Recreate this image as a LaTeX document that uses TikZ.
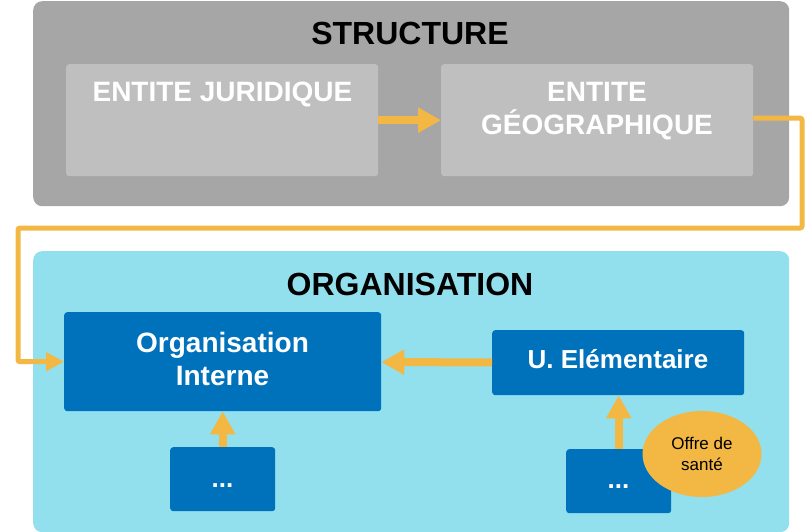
\documentclass[tikz,border=0pt]{standalone}
\usepackage{fontspec}
\setmainfont{Liberation Sans}
\usetikzlibrary{arrows.meta,shapes.geometric}
\definecolor{panelgrey}{HTML}{A6A6A6}
\definecolor{boxgrey}{HTML}{BFBFBF}
\definecolor{panelblue}{HTML}{92DFEE}
\definecolor{boxblue}{HTML}{0071BB}
\definecolor{linkorange}{HTML}{F3B843}

\begin{document}
\begin{tikzpicture}[x=1pt, y=-1pt,
  panel/.style={anchor=north west, rounded corners=9pt, inner sep=0pt, minimum width=756pt},
  greybox/.style={anchor=north west, fill=boxgrey, rounded corners=3pt, inner sep=0pt, minimum width=312pt, minimum height=112pt},
  bluebox/.style={anchor=north west, fill=boxblue, rounded corners=3pt, inner sep=0pt},
  heading/.style={anchor=base, font=\fontsize{32}{38}\selectfont\bfseries},
  boxtext/.style={text=white, align=center, font=\fontsize{28}{33}\selectfont\bfseries},
  flow/.style={draw=linkorange, line width=8pt, -{Triangle[length=23pt, width=24pt]}},
  link/.style={draw=linkorange, line width=5pt, rounded corners=2pt, -{Triangle[length=18pt, width=18pt]}}]

  \useasboundingbox (0,0) rectangle (809,532);

  % the two panels
  \node[panel, fill=panelgrey, minimum height=205pt] (structure) at (33,1) {};
  \node[panel, fill=panelblue, minimum height=281pt] (organisation) at (33,251) {};
  \node[heading] (tstructure) at (410,45) {STRUCTURE};
  \node[heading] (torganisation) at (410,295) {ORGANISATION};

  % structure
  \node[greybox] (jur) at (66,64) {};
  \node[greybox] (geo) at (441,64) {};
  \node[boxtext, anchor=base] (tjur) at (222.5,102) {ENTITE JURIDIQUE};
  \node[boxtext] (tgeo) at (597,111) {ENTITE\\GÉOGRAPHIQUE};

  % organisation
  \node[bluebox, minimum width=317pt, minimum height=99pt] (oi) at (64,312) {};
  \node[boxtext] (toi) at (222.5,359) {Organisation\\Interne};
  \node[bluebox, minimum width=252pt, minimum height=65pt] (ue) at (492,330) {};
  \node[text=white, anchor=base, font=\fontsize{26}{30}\selectfont\bfseries] (tue) at (618,368) {U. Elémentaire};
  \node[bluebox, minimum width=105pt, minimum height=64pt] (dotsl) at (170,447) {};
  \node[bluebox, minimum width=105pt, minimum height=64pt] (dotsr) at (566,449) {};
  \node[text=white, anchor=base, font=\fontsize{26}{30}\selectfont\bfseries] (tdotsl) at (222.5,487) {...};
  \node[text=white, anchor=base, font=\fontsize{26}{30}\selectfont\bfseries] (tdotsr) at (618.5,488) {...};
  \node[ellipse, fill=linkorange, inner sep=0pt, minimum width=119pt, minimum height=86pt, align=center,
        font=\fontsize{17}{21}\selectfont] (offre) at (702,454) {Offre de\\santé};

  % arrows
  \draw[flow] (jur) -- (geo);
  \draw[flow] (ue) -- (oi);
  \draw[flow] (dotsl) -- (oi);
  \draw[flow] (dotsr.north) -- (dotsr.north |- ue.south);

  \coordinate (bendr) at (802,228);
  \coordinate (bendl) at (18,228);
  \draw[link] ([yshift=2]geo.east) -| (bendr) -- (bendl) |- (oi.west);

\end{tikzpicture}
\end{document}
